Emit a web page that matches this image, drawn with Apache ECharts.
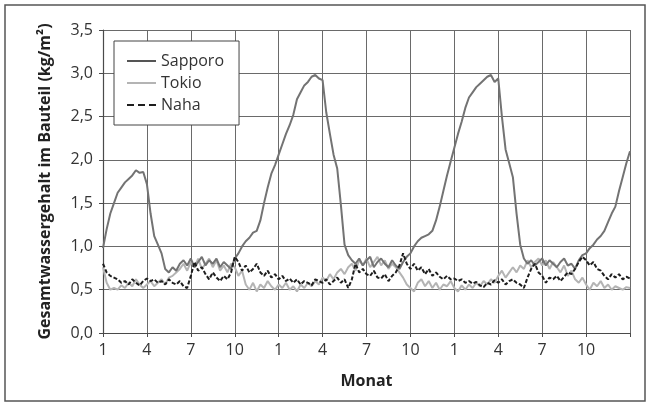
<!DOCTYPE html>
<html>
<head>
<meta charset="utf-8">
<script src="https://cdn.jsdelivr.net/npm/echarts@6/dist/echarts.min.js"></script>
<style>
  html, body { margin: 0; padding: 0; background: #fff; }
  #chart { width: 647px; height: 405px; }
</style>
</head>
<body>
<div id="chart"></div>
<script>
// time resolution: 4 readings per month, 36 months (3 years)
const step = 0.25;
const monthLabels = ['1', '4', '7', '10'];

const sapporo = [
  0.98, 1.20, 1.38, 1.50,  1.62, 1.68, 1.74, 1.78,  1.82, 1.88, 1.85, 1.86,
  1.72, 1.38, 1.12, 1.02,  0.92, 0.74, 0.70, 0.76,  0.72, 0.80, 0.84, 0.78,
  0.86, 0.76, 0.82, 0.88,  0.78, 0.84, 0.80, 0.86,  0.76, 0.82, 0.78, 0.74,
  0.86, 0.92, 1.00, 1.06,  1.10, 1.16, 1.18, 1.30,  1.50, 1.68, 1.84, 1.94,
  2.06, 2.18, 2.30, 2.40,  2.52, 2.70, 2.78, 2.86,  2.90, 2.96, 2.98, 2.94,
  2.92, 2.55, 2.30, 2.06,  1.90, 1.48, 1.02, 0.90,  0.84, 0.80, 0.86, 0.78,
  0.84, 0.88, 0.76, 0.82,  0.86, 0.80, 0.76, 0.84,  0.78, 0.74, 0.82, 0.88,
  0.92, 1.00, 1.06, 1.10,  1.12, 1.14, 1.18, 1.30,  1.46, 1.64, 1.82, 1.98,
  2.14, 2.30, 2.44, 2.60,  2.72, 2.78, 2.84, 2.88,  2.92, 2.96, 2.98, 2.90,
  2.94, 2.50, 2.12, 1.96,  1.80, 1.38, 1.02, 0.86,  0.80, 0.84, 0.78, 0.82,
  0.86, 0.78, 0.84, 0.80,  0.76, 0.82, 0.86, 0.78,  0.80, 0.74, 0.84, 0.90,
  0.92, 0.98, 1.02, 1.08,  1.12, 1.18, 1.28, 1.38,  1.46, 1.64, 1.80, 1.96,
  2.10
];

const tokio = [
  0.76, 0.58, 0.50, 0.52,  0.50, 0.55, 0.52, 0.58,  0.54, 0.62, 0.56, 0.52,
  0.56, 0.60, 0.54, 0.58,  0.62, 0.56, 0.64, 0.66,  0.70, 0.74, 0.80, 0.72,
  0.82, 0.76, 0.86, 0.74,  0.80, 0.86, 0.76, 0.84,  0.72, 0.78, 0.70, 0.80,
  0.76, 0.66, 0.72, 0.56,  0.50, 0.58, 0.48, 0.56,  0.52, 0.60, 0.54, 0.50,
  0.56, 0.52, 0.58, 0.50,  0.54, 0.48, 0.56, 0.52,  0.58, 0.54, 0.60, 0.56,
  0.64, 0.60, 0.68, 0.62,  0.70, 0.74, 0.68, 0.76,  0.80, 0.72, 0.84, 0.78,
  0.86, 0.76, 0.82, 0.88,  0.78, 0.84, 0.74, 0.80,  0.76, 0.70, 0.64, 0.56,
  0.52, 0.48, 0.58, 0.62,  0.54, 0.60, 0.52, 0.58,  0.50, 0.56, 0.54, 0.60,
  0.52, 0.48, 0.55, 0.50,  0.56, 0.52, 0.58, 0.54,  0.60, 0.56, 0.62, 0.58,
  0.66, 0.72, 0.64, 0.70,  0.76, 0.70, 0.78, 0.74,  0.84, 0.76, 0.82, 0.86,
  0.78, 0.84, 0.74, 0.82,  0.76, 0.70, 0.78, 0.66,  0.72, 0.62, 0.58, 0.64,
  0.56, 0.50, 0.58, 0.54,  0.60, 0.52, 0.56, 0.50,  0.54, 0.52, 0.50, 0.53,
  0.52
];

const naha = [
  0.80, 0.70, 0.66, 0.64,  0.62, 0.58, 0.60, 0.56,  0.62, 0.58, 0.55, 0.60,
  0.63, 0.60, 0.62, 0.58,  0.60, 0.56, 0.62, 0.58,  0.56, 0.60, 0.54, 0.52,
  0.66, 0.82, 0.72, 0.76,  0.68, 0.62, 0.70, 0.64,  0.60, 0.66, 0.62, 0.70,
  0.88, 0.82, 0.72, 0.78,  0.70, 0.74, 0.80, 0.70,  0.66, 0.72, 0.64, 0.68,
  0.62, 0.66, 0.60, 0.63,  0.58, 0.62, 0.56, 0.60,  0.58, 0.55, 0.62, 0.60,
  0.58, 0.62, 0.56, 0.60,  0.64, 0.58, 0.62, 0.52,  0.62, 0.80, 0.70, 0.74,
  0.68, 0.66, 0.72, 0.64,  0.63, 0.68, 0.60, 0.66,  0.70, 0.78, 0.92, 0.80,
  0.74, 0.80, 0.72, 0.76,  0.68, 0.74, 0.66, 0.70,  0.65, 0.62, 0.66, 0.62,
  0.63, 0.60, 0.62, 0.58,  0.60, 0.57, 0.59, 0.55,  0.53, 0.58, 0.56, 0.61,
  0.58, 0.62, 0.56, 0.60,  0.62, 0.58, 0.56, 0.52,  0.64, 0.74, 0.80, 0.70,
  0.66, 0.58, 0.64, 0.62,  0.66, 0.60, 0.65, 0.70,  0.68, 0.74, 0.82, 0.88,
  0.84, 0.78, 0.82, 0.74,  0.72, 0.66, 0.62, 0.68,  0.64, 0.68, 0.62, 0.65,
  0.63
];

function toPairs(values) {
  return values.map((v, i) => [i * step, v]);
}

const font = '"Open Sans", "Noto Sans", sans-serif';
const axisColor = '#4a4a4a';
const gridColor = '#6a6a6a';
const solidIcon = 'path://M0,0H29V2H0Z';
const dashIcon = 'path://M0,0h7v2h-7zM11,0h7v2h-7zM22,0h7v2h-7z';

const chart = echarts.init(document.getElementById('chart'), null, { renderer: 'canvas' });

chart.setOption({
  animation: false,
  backgroundColor: '#fff',
  textStyle: { fontFamily: font },
  graphic: [
    {
      type: 'rect',
      shape: { x: 5, y: 5, width: 640, height: 396 },
      style: { fill: 'none', stroke: '#555', lineWidth: 1.5 },
      z: -1
    }
  ],
  grid: { left: 103, right: 17, top: 30, bottom: 72 },
  legend: {
    orient: 'vertical',
    left: 114,
    top: 41,
    padding: [12, 15, 12, 13],
    itemWidth: 29,
    itemHeight: 2,
    itemGap: 6,
    backgroundColor: '#fff',
    borderColor: '#444',
    borderWidth: 1,
    textStyle: { fontSize: 16, lineHeight: 16, color: '#333', fontFamily: font },
    data: [
      { name: 'Sapporo', icon: solidIcon, itemStyle: { color: '#555' } },
      { name: 'Tokio', icon: solidIcon, itemStyle: { color: '#b4b4b4' } },
      { name: 'Naha', icon: dashIcon, itemStyle: { color: '#1e1e1e' } }
    ]
  },
  xAxis: {
    type: 'value',
    min: 0,
    max: 36,
    interval: 3,
    name: 'Monat',
    nameLocation: 'middle',
    nameGap: 40,
    nameTextStyle: { fontSize: 16, fontWeight: 'bold', color: '#222' },
    axisLine: { lineStyle: { color: axisColor, width: 1.2 } },
    axisTick: { show: true, length: 4, lineStyle: { color: axisColor } },
    axisLabel: {
      fontSize: 16,
      color: '#333',
      margin: 9,
      formatter: v => (v >= 36 ? '' : monthLabels[(v / 3) % 4])
    },
    splitLine: { show: true, lineStyle: { color: gridColor, width: 1 } }
  },
  yAxis: {
    type: 'value',
    min: 0,
    max: 3.5,
    interval: 0.5,
    name: 'Gesamtwassergehalt im Bauteil (kg/m²)',
    nameLocation: 'middle',
    nameGap: 50,
    nameTextStyle: { fontSize: 16, fontWeight: 'bold', color: '#222' },
    axisLine: { show: true, lineStyle: { color: axisColor, width: 1.2 } },
    axisTick: { show: true, length: 4, lineStyle: { color: axisColor } },
    axisLabel: {
      fontSize: 16,
      color: '#333',
      margin: 10,
      formatter: v => v.toFixed(1).replace('.', ',')
    },
    splitLine: { show: true, lineStyle: { color: gridColor, width: 1 } }
  },
  series: [
    {
      name: 'Tokio',
      type: 'line',
      data: toPairs(tokio),
      showSymbol: false,
      symbol: 'none',
      color: '#b4b4b4',
      lineStyle: { color: '#b4b4b4', width: 2 },
      z: 2
    },
    {
      name: 'Sapporo',
      type: 'line',
      data: toPairs(sapporo),
      showSymbol: false,
      symbol: 'none',
      color: '#737373',
      lineStyle: { color: '#737373', width: 2 },
      z: 3
    },
    {
      name: 'Naha',
      type: 'line',
      data: toPairs(naha),
      showSymbol: false,
      symbol: 'none',
      color: '#1e1e1e',
      lineStyle: { color: '#1e1e1e', width: 2, type: [4, 2] },
      z: 4
    }
  ]
});
</script>
</body>
</html>
